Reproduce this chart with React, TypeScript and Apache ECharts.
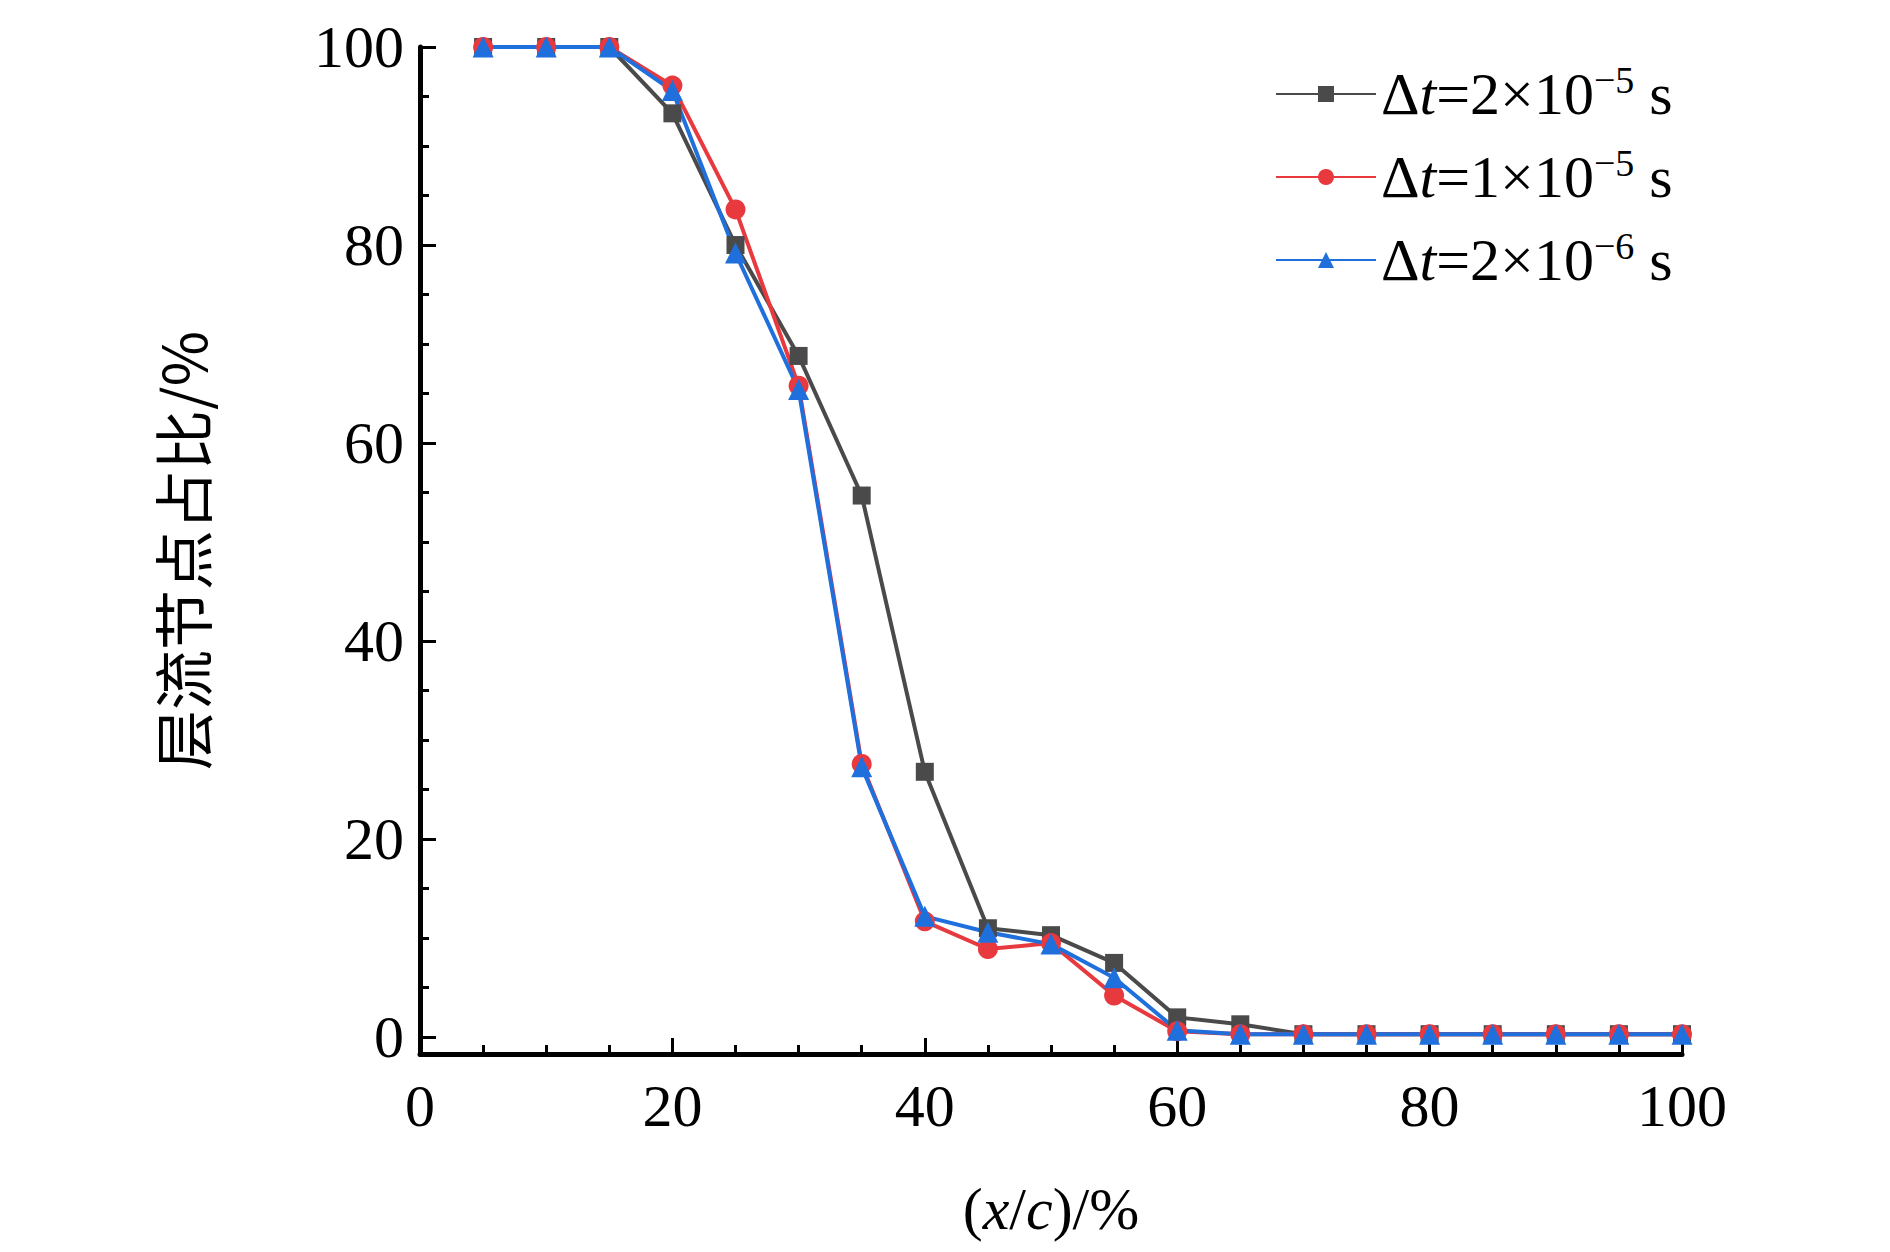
import React, { useEffect, useRef } from 'react';
import * as echarts from 'echarts';

const xValues = [5, 10, 15, 20, 25, 30, 35, 40, 45, 50, 55, 60, 65, 70, 75, 80, 85, 90, 95, 100];
const dt2e5 = [100, 100, 100, 93.3, 80, 68.8, 54.7, 26.8, 11, 10.3, 7.5, 2.0, 1.3, 0.3, 0.3, 0.3, 0.3, 0.3, 0.3, 0.3];
const dt1e5 = [100, 100, 100, 96.1, 83.6, 65.8, 27.6, 11.7, 8.9, 9.5, 4.2, 0.6, 0.3, 0.3, 0.3, 0.3, 0.3, 0.3, 0.3, 0.3];
const dt2e6 = [100, 100, 100, 95.6, 79.2, 65.4, 27.3, 12.2, 10.6, 9.4, 6.0, 0.7, 0.3, 0.3, 0.3, 0.3, 0.3, 0.3, 0.3, 0.3];
const yMajor = [0, 20, 40, 60, 80, 100];
const yMinor = [5, 10, 15, 25, 30, 35, 45, 50, 55, 65, 70, 75, 85, 90, 95];

const names = ['dt2e5', 'dt1e5', 'dt2e6'];
const legendText: Record<string, string> = {
  dt2e5: '{n|Δ}{i|t}{n|=2×10}{s|−5}{n| s}',
  dt1e5: '{n|Δ}{i|t}{n|=1×10}{s|−5}{n| s}',
  dt2e6: '{n|Δ}{i|t}{n|=2×10}{s|−6}{n| s}',
};

const FONT = '"Liberation Serif", "Times New Roman", serif';

const App: React.FC = () => {
  const chartRef = useRef<HTMLDivElement>(null);

  useEffect(() => {
    if (!chartRef.current) return;
    const chart = echarts.init(chartRef.current, undefined, { renderer: 'svg' });
    const axisLine = { onZero: false, lineStyle: { color: '#000', width: 5 } };
    const mk = (name: string, data: number[], color: string, symbol: string, size: number) => ({
      name,
      type: 'line',
      data: xValues.map((x, i) => [x, data[i]]),
      symbol,
      symbolSize: size,
      lineStyle: { color, width: 4 },
      itemStyle: { color },
    });
    chart.setOption({
      animation: false,
      textStyle: { fontFamily: FONT },
      grid: { left: 412, right: 200, top: 39, bottom: 190 },
      legend: {
        left: 1262,
        top: 48,
        orient: 'vertical',
        itemWidth: 100,
        itemHeight: 20,
        itemGap: 20,
        data: names,
        formatter: (n: string) => legendText[n],
        textStyle: {
          fontFamily: FONT,
          rich: {
            n: { fontSize: 60, fontFamily: FONT, color: '#000' },
            i: { fontSize: 60, fontFamily: FONT, fontStyle: 'italic', color: '#000' },
            s: { fontSize: 38, fontFamily: FONT, color: '#000', verticalAlign: 'top', padding: [0, 0, 28, 0] },
          },
        },
      },
      xAxis: {
        type: 'value',
        min: 0,
        max: 100,
        interval: 20,
        axisLine,
        axisTick: { inside: true, length: 16, lineStyle: { width: 3, color: '#000' } },
        minorTick: { show: true, splitNumber: 4, length: 9, lineStyle: { width: 3, color: '#000' } },
        splitLine: { show: false },
        axisLabel: { fontSize: 60, color: '#000', margin: 22, fontFamily: FONT },
        name: '{n|(}{i|x}{n|/}{i|c}{n|)/%}',
        nameLocation: 'middle',
        nameGap: 125,
        nameTextStyle: {
          rich: {
            n: { fontSize: 60, fontFamily: FONT, color: '#000' },
            i: { fontSize: 60, fontFamily: FONT, fontStyle: 'italic', color: '#000' },
          },
        },
      },
      yAxis: [
        {
          type: 'value',
          min: -1.7,
          max: 100,
          axisLine,
          axisTick: { inside: true, length: 16, customValues: yMajor, lineStyle: { width: 3, color: '#000' } },
          splitLine: { show: false },
          axisLabel: { fontSize: 60, color: '#000', margin: 16, customValues: yMajor, fontFamily: FONT },
          name: '层流节点占比/%',
          nameLocation: 'middle',
          nameGap: 210,
          nameTextStyle: { fontSize: 60, color: '#000', fontFamily: '"Noto Sans CJK SC", sans-serif' },
        },
        {
          type: 'value',
          min: -1.7,
          max: 100,
          position: 'left',
          axisLine: { show: false, onZero: false },
          axisTick: { show: true, inside: true, length: 9, customValues: yMinor, lineStyle: { width: 3, color: '#000' } },
          axisLabel: { show: false },
          splitLine: { show: false },
        },
      ],
      series: [
        mk('dt2e5', dt2e5, '#4a4a4a', 'rect', 18),
        mk('dt1e5', dt1e5, '#e8393e', 'circle', 20),
        mk('dt2e6', dt2e6, '#1f6fdc', 'triangle', 21),
      ],
    });
    return () => { chart.dispose(); };
  }, []);

  return <div ref={chartRef} style={{ width: 1874, height: 1236 }} />;
};

export default App;
